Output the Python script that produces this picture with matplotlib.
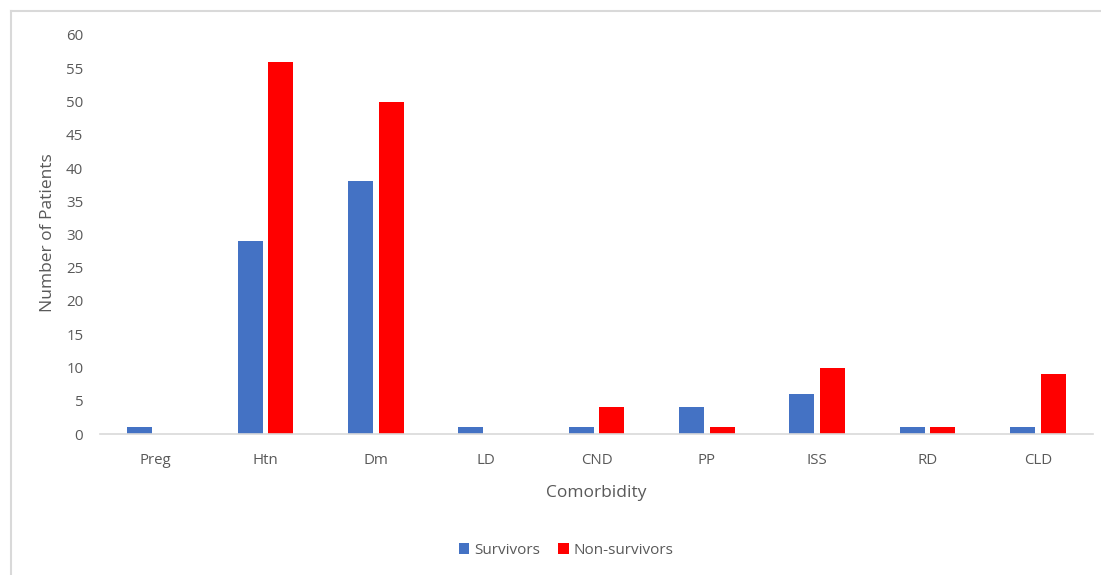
import matplotlib
matplotlib.use("Agg")
import matplotlib.pyplot as plt
from matplotlib.lines import Line2D
import numpy as np

categories = ["Preg", "Htn", "Dm", "LD", "CND", "PP", "ISS", "RD", "CLD"]
survivors = [1, 29, 38, 1, 1, 4, 6, 1, 1]
non_survivors = [0, 56, 50, 0, 4, 1, 10, 1, 9]
yticks = list(range(0, 65, 5))

plt.rcParams['font.family'] = ['Open Sans', 'DejaVu Sans']
W, H = 1101, 575
fig = plt.figure(figsize=(W / 100, H / 100), dpi=100)
ax = fig.add_axes([100 / W, (H - 434) / H, (1093 - 100) / W, (434 - 35) / H])

x = np.arange(len(categories))
bw = 0.227
off = 0.14
blue = "#4472C4"
red = "#FF0000"
ax.bar(x - off, survivors, bw, color=blue, label="Survivors")
ax.bar(x + off, non_survivors, bw, color=red, label="Non-survivors")

ax.set_xlim(-0.5, len(categories) - 0.5)
ax.set_ylim(0, 60)
ax.set_yticks(yticks)
ax.set_xticks(x)
ax.set_xticklabels(categories)
tc = "#595959"
ax.tick_params(axis='both', length=0, colors=tc, labelsize=10.8)
ax.tick_params(axis='x', pad=14)
ax.tick_params(axis='y', pad=12)
for s in ["top", "right", "left"]:
    ax.spines[s].set_visible(False)
ax.spines["bottom"].set_color("#d9d9d9")
ax.spines["bottom"].set_linewidth(1.2)

fig.text(596 / W, 1 - 493 / H, "Comorbidity", ha="center", va="center", fontsize=12.5, color=tc)
fig.text(48 / W, 1 - 233 / H, "Number of Patients", ha="center", va="center", rotation=90, fontsize=12.5, color=tc)

handles, labels = ax.get_legend_handles_labels()
leg = fig.legend(handles, labels, loc="center", bbox_to_anchor=(566 / W, 1 - 550 / H), ncol=2,
                 frameon=False, fontsize=11, handlelength=0.7, handleheight=0.7,
                 handletextpad=0.3, columnspacing=1.2)
for t in leg.get_texts():
    t.set_color(tc)

# outer chart frame (left and top borders visible)
fig.add_artist(Line2D([11 / W, 11 / W], [0, 1 - 11 / H], transform=fig.transFigure, color="#d9d9d9", lw=1.5))
fig.add_artist(Line2D([11 / W, 1], [1 - 11 / H, 1 - 11 / H], transform=fig.transFigure, color="#d9d9d9", lw=1.5))

fig.savefig("out.png", dpi=100)
